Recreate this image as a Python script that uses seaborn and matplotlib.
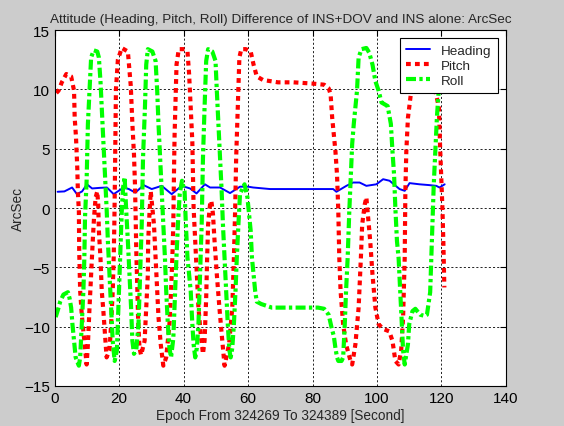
import matplotlib
matplotlib.use("Agg")
import matplotlib.pyplot as plt
import seaborn as sns

# values (epoch second, arcsec)
heading_x = [0.9, 3.0, 5.4, 6.9, 8.5, 10.0, 11.6, 14.0, 16.2, 18.3, 21.4, 23.0, 25.0, 27.6,
             30.1, 33.2, 36.3, 39.4, 42.0, 44.0, 46.6, 48.2, 51.3, 54.4, 57.5, 60.0, 61.6,
             66.8, 86.4, 87.4, 90.5, 92.6, 94.6, 96.7, 99.8, 101.9, 103.9, 107.0, 108.6,
             110.1, 113.2, 116.3, 118.4, 119.4, 121.0]
heading_y = [1.37, 1.4, 1.73, 1.17, 1.4, 2.0, 1.65, 1.7, 1.73, 1.17, 1.73, 1.6, 1.3, 1.93,
             1.6, 1.87, 1.17, 1.87, 1.65, 1.23, 2.0, 1.73, 1.73, 1.26, 1.8, 1.8, 1.73,
             1.6, 1.6, 1.37, 1.87, 2.15, 2.15, 1.87, 2.0, 2.43, 2.3, 1.6, 1.45,
             2.1, 2.0, 1.93, 1.87, 1.73, 2.0]

pitch_x = [0.5, 1.2, 2.2, 3.6, 5.1, 6.0, 6.2, 6.6, 7.0, 7.2, 7.5, 7.6, 7.9, 8.4, 9.2, 9.9,
           10.3, 10.8, 11.3, 11.8, 12.2, 12.7, 13.2, 13.5, 13.7, 14.2, 14.6, 15.1, 15.6, 16.1,
           17.0, 17.5, 18.0, 18.3, 18.5, 18.7, 19.0, 19.6, 20.8, 22.7, 23.6, 24.1, 24.6,
           24.9, 25.1, 25.3, 25.6, 25.9, 26.3, 26.8, 27.9, 28.4, 28.9, 29.0, 29.4, 29.8,
           30.3, 30.8, 31.3, 31.8, 32.2, 32.9, 33.7, 34.6, 35.6, 36.1, 36.5, 36.8, 37.0,
           37.2, 37.5, 37.8, 38.5, 40.3, 41.2, 41.7, 42.2, 42.7, 42.9, 43.1, 43.6, 44.1,
           44.6, 45.3, 46.0, 46.5, 47.0, 47.3, 47.6, 48.2, 48.6, 49.1, 49.6, 50.3, 51.1,
           51.8, 52.7, 54.1, 55.1, 55.6, 56.0, 56.3, 56.7, 57.0, 57.3, 57.9, 59.3, 60.8,
           61.7, 62.7, 64.6, 69.3, 74.1, 79.8, 83.6, 85.0, 85.6, 86.1, 87.1, 87.6, 88.0,
           88.3, 88.7, 89.5, 90.4, 91.9, 92.3, 93.3, 94.3, 95.0, 95.4, 96.2, 96.7, 97.1,
           97.9, 98.6, 99.5, 100.5, 101.9, 103.8, 104.8, 105.7, 106.7, 107.5, 108.1, 108.6,
           108.8, 109.1, 109.6, 110.0, 110.5, 111.5, 114.0, 116.5, 118.0, 119.2, 119.6,
           120.0, 120.3, 120.6, 120.9]
pitch_y = [9.7, 9.9, 10.6, 11.3, 11.1, 9.9, 7.6, 6.0, 3.4, 1.3, -0.3, -3.6, -7.0, -9.0, -11.2, -13.2,
           -11.5, -8.4, -5.6, -2.8, -0.8, 0.9, 1.4, 0.3, -1.9, -4.2, -7.0, -8.7, -10.7, -12.6,
           -12.0, -9.8, -7.0, -4.2, -1.4, 2.8, 10.0, 12.5, 13.5, 13.2, 10.3, 7.1, 4.5,
           2.0, -0.5, -3.5, -6.5, -9.5, -11.8, -12.4, -11.2, -8.4, -5.6, -2.8, -0.5, 1.4,
           0.0, -1.4, -4.2, -7.0, -9.2, -11.5, -13.3, -12.6, -9.8, -7.0, -4.2, -1.4, 2.8,
           6.2, 9.2, 12.1, 13.4, 13.4, 13.2, 11.3, 8.5, 5.6, 2.8, 0.0, -2.8, -5.6,
           -8.4, -10.6, -12.3, -11.2, -7.6, -4.2, -1.4, 0.3, 0.6, -0.5, -2.8, -5.6, -8.4,
           -10.6, -13.3, -11.5, -8.4, -4.2, 0.0, 4.2, 7.6, 10.4, 12.7, 13.4, 13.4, 13.2,
           12.1, 11.1, 10.8, 10.6, 10.6, 10.5, 10.4, 10.1, 9.6, 7.6, 4.8, 2.8, -0.3,
           -4.2, -7.0, -9.8, -11.5, -13.0, -13.2, -11.5, -8.4, -4.2, -1.4, 0.3, 0.9, -0.3,
           -2.8, -5.6, -8.4, -9.8, -10.2, -10.4, -11.2, -12.9, -13.2, -12.0, -9.2, -4.2,
           1.4, 4.8, 7.6, 8.5, 9.6, 10.5, 11.5, 10.5, 10.0, 8.5, 5.0,
           2.0, 0.0, -3.0, -6.7]

roll_x = [0.3, 1.2, 1.7, 2.7, 4.1, 4.6, 5.1, 5.5, 6.0, 6.5, 7.5, 7.9, 8.4, 8.9, 9.2, 9.4,
          9.9, 10.1, 10.3, 10.8, 11.3, 12.1, 13.2, 13.7, 14.2, 14.6, 15.1, 15.6, 16.1, 16.5,
          17.0, 17.5, 18.0, 18.6, 19.3, 19.8, 20.3, 20.8, 21.2, 21.7, 22.2, 22.7, 23.2,
          23.7, 24.1, 24.6, 25.3, 26.0, 26.5, 27.0, 27.4, 28.0, 28.4, 28.9, 30.3, 31.3,
          31.8, 32.2, 32.7, 33.2, 33.7, 34.2, 34.6, 35.1, 35.6, 36.1, 36.8, 37.3, 37.8,
          38.3, 38.8, 39.5, 40.3, 40.7, 41.2, 42.2, 42.7, 43.1, 43.6, 44.1, 44.6, 45.1,
          45.6, 46.0, 46.5, 47.0, 47.6, 48.9, 49.9, 50.3, 50.8, 51.3, 51.8, 52.2, 52.7,
          53.2, 53.7, 54.2, 54.6, 55.1, 55.6, 56.1, 56.5, 57.0, 57.5, 58.4, 58.9, 59.8,
          60.3, 60.8, 61.2, 62.2, 62.7, 64.1, 67.4, 74.1, 81.7, 83.6, 85.0, 86.0, 86.6,
          87.1, 87.6, 88.0, 89.0, 89.5, 90.0, 90.4, 90.9, 91.4, 91.9, 92.3, 92.8, 93.3,
          93.8, 94.3, 95.2, 96.7, 97.6, 98.6, 99.5, 100.5, 101.4, 103.3, 104.3, 104.8,
          105.3, 105.7, 106.2, 106.7, 107.2, 107.7, 108.1, 108.6, 109.6, 110.0, 111.0,
          111.9, 113.4, 114.8, 115.5, 116.5, 117.0, 117.6, 118.1, 118.6, 119.1, 119.5]
roll_y = [-9.2, -8.4, -7.9, -7.3, -7.1, -7.6, -8.4, -9.8, -11.2, -12.6, -13.3, -12.6, -9.8, -7.0, -4.2, -0.8,
          2.3, 4.8, 7.1, 9.9, 12.7, 13.3, 13.2, 12.7, 10.7, 8.5, 5.6, 2.8, 0.0, -2.8,
          -5.6, -8.4, -11.2, -12.9, -12.0, -8.0, -4.2, -0.3, 1.7, 2.6, -0.3, -2.8, -5.6,
          -8.4, -11.2, -12.3, -12.0, -9.8, -5.6, -1.4, 4.2, 8.5, 12.1, 13.4, 13.2, 12.4,
          9.9, 7.1, 4.2, 1.4, -1.4, -4.2, -7.0, -9.8, -11.8, -12.6, -11.0, -7.5, -4.0,
          -1.0, 1.2, 2.3, 1.4, -1.4, -4.2, -7.0, -9.8, -11.5, -12.6, -11.8, -9.8, -5.6,
          -1.4, 4.2, 8.5, 12.4, 13.4, 13.2, 12.4, 9.9, 7.1, 4.2, 1.4, -1.4, -4.2,
          -7.0, -9.8, -12.0, -12.6, -11.8, -9.8, -7.0, -4.2, -1.4, 1.2, 1.7, 2.0, 0.9,
          -0.5, -1.9, -4.2, -7.0, -7.9, -8.1, -8.4, -8.4, -8.4, -8.5, -9.0, -10.2, -10.8,
          -11.8, -12.6, -12.9, -12.9, -12.6, -9.8, -7.0, -4.2, -0.3, 2.8, 5.4, 7.1, 8.5,
          9.9, 12.7, 13.4, 13.5, 13.1, 12.1, 10.7, 9.9, 8.9, 8.6, 7.1, 4.8,
          2.8, 0.0, -2.8, -4.2, -7.0, -9.8, -12.0, -13.2, -11.5, -9.8, -8.7,
          -8.5, -9.0, -9.1, -9.0, -7.1, -2.9, 1.9, 4.9, 7.7, 9.7, 11.0]

x_ticks = [0, 20, 40, 60, 80, 100, 120, 140]
y_ticks = [-15, -10, -5, 0, 5, 10, 15]

sns.set_style("white")
plt.rcParams['font.family'] = ['Liberation Sans', 'DejaVu Sans']

fig = plt.figure(figsize=(5.64, 4.27), dpi=100, facecolor="#cccccc")
ax = fig.add_axes([0.097, 0.094, 0.80, 0.833])
ax.set_facecolor("white")

sns.lineplot(x=heading_x, y=heading_y, ax=ax, color="#0000ff", linewidth=1.4,
             estimator=None, sort=False, label="Heading")
sns.lineplot(x=pitch_x, y=pitch_y, ax=ax, color="#ff0000", linewidth=3.0,
             linestyle=(0, (1.15, 1.0)), estimator=None, sort=False, label="Pitch")
sns.lineplot(x=roll_x, y=roll_y, ax=ax, color="#00ff00", linewidth=3.0,
             linestyle=(0, (2.4, 0.8, 0.8, 0.8)), estimator=None, sort=False, label="Roll")

ax.set_xlim(0, 140)
ax.set_ylim(-15, 15)
ax.set_xticks(x_ticks)
ax.set_yticks(y_ticks)
ax.tick_params(direction="in", length=4, labelsize=11, colors="black",
               top=True, right=True, width=0.8)
ax.grid(True, color="black", linestyle=(0, (2.5, 2.5)), linewidth=0.6)
for sp in ax.spines.values():
    sp.set_visible(True)
    sp.set_color("black")
    sp.set_linewidth(0.8)

ax.set_title("Attitude (Heading, Pitch, Roll) Difference of INS+DOV and INS alone: ArcSec",
             fontsize=9.7, pad=6)
ax.set_xlabel("Epoch From 324269 To 324389 [Second]", fontsize=9.8, labelpad=2)
ax.set_ylabel("ArcSec", fontsize=9.8, labelpad=-1)

leg = ax.legend(loc="upper right", fancybox=False, framealpha=1, edgecolor="black",
                fontsize=9.7, handlelength=1.75, handletextpad=0.85,
                borderaxespad=0.6, labelspacing=0.2, borderpad=0.45)
leg.get_frame().set_linewidth(0.8)

fig.savefig("out.png", dpi=100, facecolor=fig.get_facecolor())
